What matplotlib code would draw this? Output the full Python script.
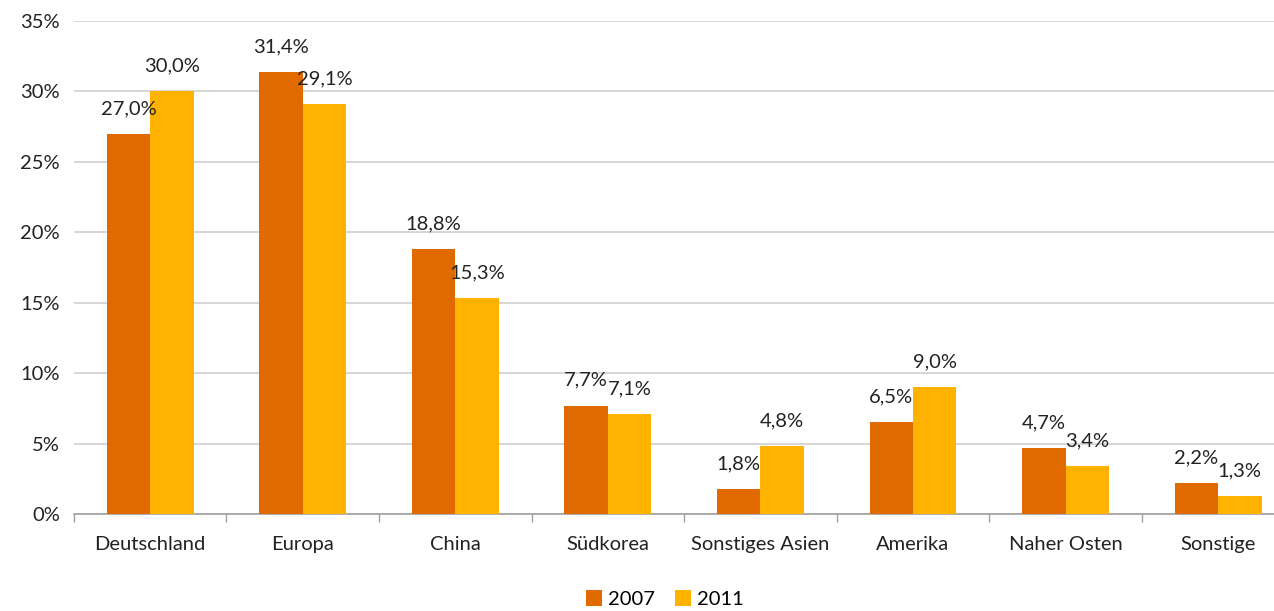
import matplotlib.pyplot as plt
import numpy as np

plt.rcParams['font.family'] = ['Lato', 'DejaVu Sans']

regions = ['Deutschland', 'Europa', 'China', 'Südkorea', 'Sonstiges Asien',
           'Amerika', 'Naher Osten', 'Sonstige']
share_2007 = [27.0, 31.4, 18.8, 7.7, 1.8, 6.5, 4.7, 2.2]
share_2011 = [30.0, 29.1, 15.3, 7.1, 4.8, 9.0, 3.4, 1.3]
y_ticks = [0, 5, 10, 15, 20, 25, 30, 35]

c2007 = '#E06A00'
c2011 = '#FFB300'
txt = '#222222'
fs = 14.5

fig = plt.figure(figsize=(12.74, 6.11), dpi=100)
ax = fig.add_axes([0.058, 0.1588, 0.958, 0.8068])

x = np.arange(len(regions))
w = 0.285
b1 = ax.bar(x - w / 2, share_2007, w, color=c2007, label='2007', zorder=3)
b2 = ax.bar(x + w / 2, share_2011, w, color=c2011, label='2011', zorder=3)

for bars, vals in ((b1, share_2007), (b2, share_2011)):
    for rect, v in zip(bars, vals):
        ax.annotate(f'{v:.1f}%'.replace('.', ','),
                    (rect.get_x() + rect.get_width() / 2, v),
                    xytext=(0, 12), textcoords='offset points',
                    ha='center', va='bottom', fontsize=fs, color=txt)

ax.set_xlim(-0.5, len(regions) - 0.5)
ax.set_ylim(0, 35)
ax.set_yticks(y_ticks)
ax.set_yticklabels([f'{t}%' for t in y_ticks], fontsize=fs, color=txt)
ax.yaxis.grid(True, color='#D0D0D0', linewidth=1.2, zorder=0)
ax.tick_params(axis='y', length=0, pad=10)

ax.set_xticks(x)
ax.set_xticklabels(regions, fontsize=fs, color=txt)
ax.tick_params(axis='x', length=0, pad=16)
ax.set_xticks(np.arange(len(regions) + 1) - 0.5, minor=True)
ax.tick_params(axis='x', which='minor', length=6, color='#A0A0A0', width=1)

for s in ('top', 'right', 'left'):
    ax.spines[s].set_visible(False)
ax.spines['bottom'].set_color('#A0A0A0')
ax.spines['bottom'].set_linewidth(1.2)

fig.legend(loc='lower center', bbox_to_anchor=(0.522, -0.025), ncol=2,
           frameon=False, fontsize=fs, handlelength=0.8, handleheight=0.8,
           columnspacing=1.0, handletextpad=0.3)

fig.savefig('out.png', dpi=100)
